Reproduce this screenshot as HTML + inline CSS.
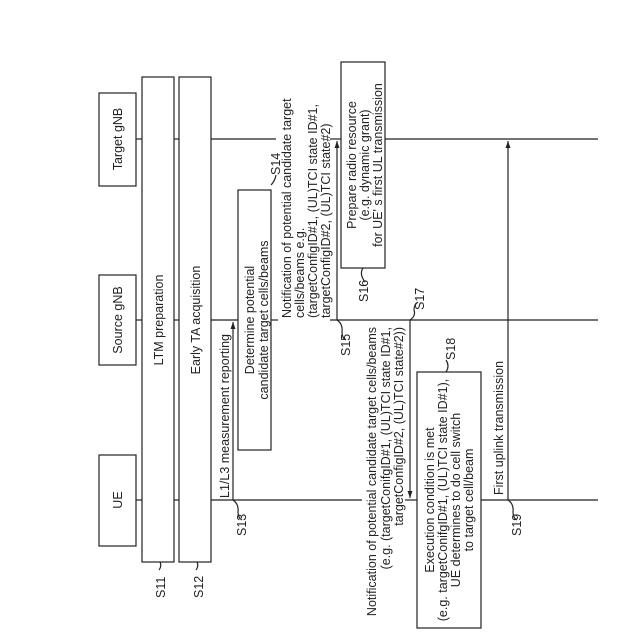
<!DOCTYPE html>
<html><head><meta charset="utf-8"><style>
html,body{margin:0;padding:0;background:#fff}
svg{display:block}
text{font-family:"Liberation Sans",sans-serif;font-size:12.5px;fill:#222}
</style></head><body>
<svg width="640" height="640" viewBox="0 0 640 640" xmlns="http://www.w3.org/2000/svg">
<defs><marker id="ah" markerWidth="8" markerHeight="8" refX="7" refY="4" orient="auto" markerUnits="userSpaceOnUse"><path d="M0,1.5 L7,4 L0,6.5 z" fill="#222"/></marker></defs>
<g stroke="#222" stroke-width="1.2" fill="none">
<rect x="99" y="93" width="37" height="93"/>
<rect x="99" y="275" width="37" height="90"/>
<rect x="99" y="455" width="37" height="91"/>
<rect x="142" y="77" width="32" height="485"/>
<rect x="179" y="77" width="32" height="485"/>
<line x1="136" y1="139" x2="142" y2="139"/><line x1="174" y1="139" x2="179" y2="139"/>
<line x1="136" y1="320" x2="142" y2="320"/><line x1="174" y1="320" x2="179" y2="320"/>
<line x1="136" y1="500" x2="142" y2="500"/><line x1="174" y1="500" x2="179" y2="500"/>
<line x1="211" y1="139" x2="276" y2="139"/>
<line x1="330" y1="139" x2="341" y2="139"/>
<line x1="385" y1="139" x2="598" y2="139"/>
<line x1="211" y1="320" x2="238" y2="320"/>
<line x1="271" y1="320" x2="278" y2="320"/>
<line x1="330" y1="320" x2="598" y2="320"/>
<line x1="211" y1="500" x2="362" y2="500"/>
<line x1="405" y1="500" x2="417" y2="500"/>
<line x1="481" y1="500" x2="598" y2="500"/>
<rect x="238" y="190" width="33" height="260"/>
<rect x="341" y="62" width="44" height="206"/>
<rect x="417" y="372" width="64" height="256"/>
<line x1="233" y1="500" x2="233" y2="322" marker-end="url(#ah)"/>
<line x1="337" y1="320" x2="337" y2="141" marker-end="url(#ah)"/>
<line x1="410" y1="320" x2="410" y2="498" marker-end="url(#ah)"/>
<line x1="508" y1="500" x2="508" y2="141" marker-end="url(#ah)"/>
<path d="M160,562 q2,4 -1,8"/><path d="M197,562 q2,4 -1,8"/>
<path d="M233,500 q6,4 5,12 q0,6 4,8"/>
<path d="M271,185 q4,-4 5,-10"/>
<path d="M337,320 q6,4 5,12 q0,6 4,8"/>
<path d="M363,268 q-4,6 2,14"/>
<path d="M410,320 q6,-4 4,-10 q0,-6 4,-8"/>
<path d="M446,372 q4,-6 0,-12"/>
<path d="M508,500 q6,4 5,12 q0,6 4,8"/>
</g>
<g>
<text transform="translate(122,139) rotate(-90)" text-anchor="middle">Target gNB</text>
<text transform="translate(122,320) rotate(-90)" text-anchor="middle">Source gNB</text>
<text transform="translate(122,500) rotate(-90)" text-anchor="middle">UE</text>
<text transform="translate(163,320) rotate(-90)" text-anchor="middle">LTM preparation</text>
<text transform="translate(200,320) rotate(-90)" text-anchor="middle">Early TA acquisition</text>
<text transform="translate(229,416) rotate(-90)" text-anchor="middle">L1/L3 measurement reporting</text>
<text transform="translate(254,320) rotate(-90)" text-anchor="middle">Determine potential</text>
<text transform="translate(268,320) rotate(-90)" text-anchor="middle">candidate target cells/beams</text>
<text transform="translate(291,318) rotate(-90)">Notification of potential candidate target</text>
<text transform="translate(304,318) rotate(-90)">cells/beams e.g.</text>
<text transform="translate(317,318) rotate(-90)">(targetConfigID#1, (UL)TCI state ID#1,</text>
<text transform="translate(330,318) rotate(-90)">targetConfigID#2, (UL)TCI state#2)</text>
<text transform="translate(356,165) rotate(-90)" text-anchor="middle">Prepare radio resource</text>
<text transform="translate(369,165) rotate(-90)" text-anchor="middle">(e.g. dynamic grant)</text>
<text transform="translate(382,165) rotate(-90)" text-anchor="middle">for UE' s first UL transmission</text>
<text transform="translate(376,327) rotate(-90)" text-anchor="end">Notification of potential candidate target cells/beams</text>
<text transform="translate(390,327) rotate(-90)" text-anchor="end">(e.g. (targetConifgID#1, (UL)TCI state ID#1,</text>
<text transform="translate(403,327) rotate(-90)" text-anchor="end">targetConfigID#2, (UL)TCI state#2))</text>
<text transform="translate(434,500) rotate(-90)" text-anchor="middle">Execution condition is met</text>
<text transform="translate(447,500) rotate(-90)" text-anchor="middle">(e.g. targetConifgID#1, (UL)TCI state ID#1),</text>
<text transform="translate(460,500) rotate(-90)" text-anchor="middle">UE determines to do cell switch</text>
<text transform="translate(473,500) rotate(-90)" text-anchor="middle">to target cell/beam</text>
<text transform="translate(503,428) rotate(-90)" text-anchor="middle">First uplink transmission</text>
<text transform="translate(165,598) rotate(-90)">S11</text>
<text transform="translate(203,598) rotate(-90)">S12</text>
<text transform="translate(246,536) rotate(-90)">S13</text>
<text transform="translate(280,175) rotate(-90)">S14</text>
<text transform="translate(350,356) rotate(-90)">S15</text>
<text transform="translate(368,302) rotate(-90)">S16</text>
<text transform="translate(424,310) rotate(-90)">S17</text>
<text transform="translate(455,360) rotate(-90)">S18</text>
<text transform="translate(521,536) rotate(-90)">S19</text>
</g>
</svg>
</body></html>
